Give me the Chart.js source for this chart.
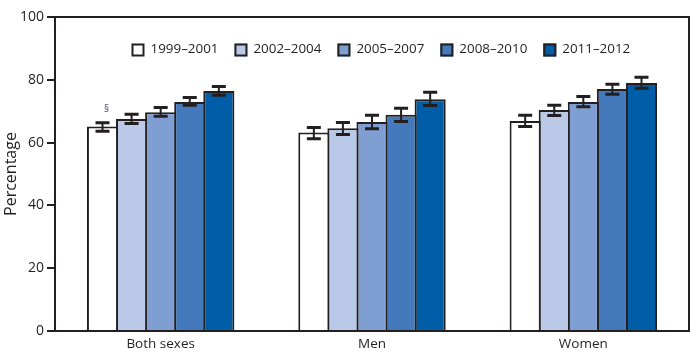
<!DOCTYPE html>
<html>
<head>
<meta charset="utf-8">
<script src="https://cdn.jsdelivr.net/npm/chart.js@4"></script>
<style>
html,body{margin:0;padding:0;background:#fff;}
#wrap{position:relative;width:699px;height:355px;}
</style>
</head>
<body>
<div id="wrap"><canvas id="c" width="699" height="355"></canvas></div>
<script>
const categories = ["Both sexes", "Men", "Women"];
const periods = ["1999–2001", "2002–2004", "2005–2007", "2008–2010", "2011–2012"];
const v1999 = [65.1, 63.2, 66.9];
const v2002 = [67.5, 64.6, 70.4];
const v2005 = [69.7, 66.6, 72.9];
const v2008 = [72.9, 68.9, 77.1];
const v2011 = [76.4, 73.8, 79.0];
const lo1999 = [63.6, 61.2, 65.1], hi1999 = [66.3, 64.8, 68.7];
const lo2002 = [66.1, 62.6, 68.6], hi2002 = [69.0, 66.4, 71.9];
const lo2005 = [68.4, 64.4, 71.4], hi2005 = [71.2, 68.7, 74.7];
const lo2008 = [71.9, 66.7, 75.4], hi2008 = [74.4, 70.9, 78.6];
const lo2011 = [75.1, 71.8, 77.3], hi2011 = [77.9, 76.0, 80.8];
const yTicks = [0, 20, 40, 60, 80, 100];
const footnoteMark = "§";

const colors = ["#ffffff", "#b9c9e7", "#7f9fd2", "#4479bb", "#005ea9"];
const ink = "#231f20";
const FONT = "'Open Sans', sans-serif";

const values = [v1999, v2002, v2005, v2008, v2011];
const lows = [lo1999, lo2002, lo2005, lo2008, lo2011];
const highs = [hi1999, hi2002, hi2005, hi2008, hi2011];

const datasets = periods.map((p, i) => ({
  label: p,
  data: values[i],
  lo: lows[i],
  hi: highs[i],
  backgroundColor: colors[i],
  borderColor: ink,
  borderWidth: 2,
  borderSkipped: 'bottom',
  categoryPercentage: 0.688,
  barPercentage: 1.07
}));

const extras = {
  id: 'extras',
  afterDatasetsDraw(chart) {
    const ctx = chart.ctx;
    const y = chart.scales.y;
    const a = chart.chartArea;
    ctx.save();
    chart.data.datasets.forEach((ds, di) => {
      const meta = chart.getDatasetMeta(di);
      meta.data.forEach((bar, j) => {
        const x = bar.x;
        const yl = y.getPixelForValue(ds.lo[j]);
        const yh = y.getPixelForValue(ds.hi[j]);
        ctx.strokeStyle = ink;
        ctx.lineWidth = 2;
        ctx.beginPath();
        ctx.moveTo(x, yl); ctx.lineTo(x, yh); ctx.stroke();
        ctx.lineWidth = 3;
        ctx.beginPath();
        ctx.moveTo(x - 7, yl); ctx.lineTo(x + 7, yl);
        ctx.moveTo(x - 7, yh); ctx.lineTo(x + 7, yh);
        ctx.stroke();
      });
    });
    const b0 = chart.getDatasetMeta(0).data[0];
    ctx.fillStyle = "#4a4f6a";
    ctx.font = "10px " + FONT;
    ctx.textAlign = 'center';
    ctx.textBaseline = 'middle';
    ctx.fillText(footnoteMark, b0.x + 4, y.getPixelForValue(chart.data.datasets[0].hi[0]) - 14);
    ctx.strokeStyle = ink;
    ctx.lineWidth = 2;
    ctx.beginPath();
    ctx.moveTo(a.left - 1, a.top);
    ctx.lineTo(a.right, a.top);
    ctx.lineTo(a.right, a.bottom + 1);
    ctx.stroke();
    ctx.font = "13.4px " + FONT;
    ctx.textAlign = 'left';
    ctx.textBaseline = 'middle';
    let lx = 131.5;
    const ly = 50;
    chart.data.datasets.forEach((ds) => {
      ctx.fillStyle = ds.backgroundColor;
      ctx.fillRect(lx, ly - 6.5, 13, 13);
      ctx.lineWidth = 2;
      ctx.strokeStyle = ink;
      ctx.strokeRect(lx + 1, ly - 5.5, 11, 11);
      ctx.fillStyle = ink;
      ctx.fillText(ds.label, lx + 19, ly - 1);
      lx += 19 + ctx.measureText(ds.label).width + 16;
    });
    ctx.restore();
  }
};

new Chart(document.getElementById('c'), {
  type: 'bar',
  data: { labels: categories, datasets },
  options: {
    responsive: false,
    animation: false,
    devicePixelRatio: 1,
    layout: { padding: { top: 17, right: 10, left: 0, bottom: 0 } },
    plugins: { legend: { display: false }, tooltip: { enabled: false } },
    scales: {
      x: {
        grid: { display: false },
        border: { display: true, color: ink, width: 2 },
        ticks: { color: ink, font: { family: FONT, size: 13.5 }, padding: -3 },
        afterFit(s) { s.height = 24; }
      },
      y: {
        min: 0, max: 100,
        afterBuildTicks(s) { s.ticks = yTicks.map(v => ({ value: v })); },
        grid: { display: true, drawOnChartArea: false, drawTicks: true, tickLength: 8, color: ink, lineWidth: 2 },
        border: { display: true, color: ink, width: 2 },
        ticks: { color: ink, font: { family: FONT, size: 14 }, padding: 3 },
        title: { display: true, text: 'Percentage', color: ink, font: { family: FONT, size: 16 }, padding: { top: 2, bottom: 2 } },
        afterFit(s) { s.width = 55; }
      }
    }
  },
  plugins: [extras]
});
</script>
</body>
</html>
